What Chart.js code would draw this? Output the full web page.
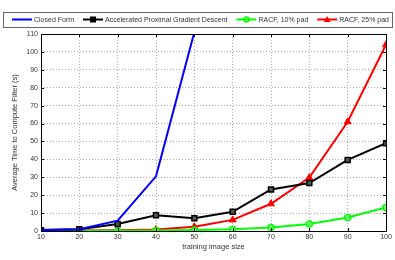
<!DOCTYPE html>
<html>
<head>
<meta charset="utf-8">
<script src="https://cdn.jsdelivr.net/npm/chart.js@4/dist/chart.umd.min.js"></script>
<style>
  html, body { margin: 0; padding: 0; background: #fff; }
  #wrap { width: 395px; height: 260px; }
</style>
</head>
<body>
<div id="wrap"><canvas id="timeChart" width="395" height="260"></canvas></div>
<script>
// image sizes on the x axis
const sizes = [10, 20, 30, 40, 50, 60, 70, 80, 90, 100];
const yTicks = [0, 10, 20, 30, 40, 50, 60, 70, 80, 90, 100, 110];

// average time (s) for each method
const closedForm = [0.5, 1, 5.8, 30.5, 111, null, null, null, null, null];
const apgd = [0.5, 1, 3.9, 8.8, 7.1, 10.7, 23.2, 26.8, 39.7, 49];
const racf10 = [0.2, 0.2, 0.2, 0.3, 0.5, 1, 1.9, 3.9, 7.5, 13.1];
const racf25 = [0.3, 0.3, 0.4, 0.8, 2.4, 6.2, 15.2, 29.8, 61, 104];

const FONT = '"Liberation Sans", Arial, sans-serif';

// matlab style legend box + plot frame
const frameAndLegend = {
  id: 'frameAndLegend',
  afterDraw(chart) {
    const ctx = chart.ctx;
    const a = chart.chartArea;
    ctx.save();
    ctx.strokeStyle = '#000';
    ctx.lineWidth = 1;
    ctx.strokeRect(Math.round(a.left) + 0.5, Math.round(a.top) + 0.5,
      Math.round(a.right - a.left), Math.round(a.bottom - a.top));

    // inward tick marks on all four sides
    const xs = chart.scales.x, ys = chart.scales.y;
    ctx.beginPath();
    sizes.forEach(v => {
      const px = Math.round(xs.getPixelForValue(v)) + 0.5;
      ctx.moveTo(px, a.bottom); ctx.lineTo(px, a.bottom - 3);
      ctx.moveTo(px, a.top); ctx.lineTo(px, a.top + 3);
    });
    yTicks.forEach(v => {
      const py = Math.round(ys.getPixelForValue(v)) + 0.5;
      ctx.moveTo(a.left, py); ctx.lineTo(a.left + 3, py);
      ctx.moveTo(a.right, py); ctx.lineTo(a.right - 3, py);
    });
    ctx.stroke();

    // legend
    ctx.font = '7px ' + FONT;
    ctx.textBaseline = 'middle';
    const cy = 19.5;
    const boxL = 3, boxR = 392;
    const lineLen = 20;
    // measure so the entries fill the box like the original
    let total = 0;
    chart.data.datasets.forEach(ds => { total += lineLen + 2 + ctx.measureText(ds.label).width; });
    const gap = (boxR - boxL - 12 - total) / 3;
    let x = boxL + 9;
    ctx.fillStyle = '#fff';
    ctx.fillRect(boxL, 12, boxR - boxL, 15);
    ctx.strokeStyle = '#666';
    ctx.strokeRect(boxL + 0.5, 12.5, boxR - boxL, 15);
    chart.data.datasets.forEach(ds => {
      ctx.strokeStyle = ds.borderColor;
      ctx.lineWidth = 2;
      ctx.beginPath();
      ctx.moveTo(x, cy); ctx.lineTo(x + lineLen, cy);
      ctx.stroke();
      const mx = x + lineLen / 2;
      ctx.lineWidth = 1.5;
      if (ds.pointStyle === 'rect') {
        ctx.fillStyle = '#000';
        ctx.fillRect(mx - 3, cy - 3, 6, 6);
      } else if (ds.pointStyle === 'circle' && ds.pointRadius > 0) {
        ctx.beginPath();
        ctx.arc(mx, cy, 2.5, 0, Math.PI * 2);
        ctx.stroke();
      } else if (ds.pointStyle === 'triangle') {
        ctx.fillStyle = ds.borderColor;
        ctx.beginPath();
        ctx.moveTo(mx, cy - 3.5);
        ctx.lineTo(mx + 3.5, cy + 2.5);
        ctx.lineTo(mx - 3.5, cy + 2.5);
        ctx.closePath();
        ctx.fill();
      }
      ctx.fillStyle = '#333';
      ctx.fillText(ds.label, x + lineLen + 2, cy + 0.5);
      x += lineLen + 2 + ctx.measureText(ds.label).width + gap;
    });
    ctx.restore();
  }
};

new Chart(document.getElementById('timeChart'), {
  type: 'line',
  data: {
    labels: sizes,
    datasets: [
      {
        label: 'Closed Form',
        data: closedForm,
        borderColor: '#0000ff',
        borderWidth: 2,
        pointRadius: 0,
        pointStyle: 'circle',
      },
      {
        label: 'Accelerated Proximal Gradient Descent',
        data: apgd,
        borderColor: '#000000',
        backgroundColor: '#555555',
        borderWidth: 2,
        pointStyle: 'rect',
        pointRadius: 3.5,
        pointBorderWidth: 1.5,
      },
      {
        label: 'RACF, 10% pad',
        data: racf10,
        borderColor: '#00ff00',
        backgroundColor: 'rgba(120,255,120,0.6)',
        borderWidth: 2,
        pointStyle: 'circle',
        pointRadius: 3,
        pointBorderWidth: 1.5,
      },
      {
        label: 'RACF, 25% pad',
        data: racf25,
        borderColor: '#ff0000',
        backgroundColor: '#ff0000',
        borderWidth: 2,
        pointStyle: 'triangle',
        pointRadius: 4,
        pointBorderWidth: 1,
      },
    ],
  },
  options: {
    responsive: false,
    animation: false,
    layout: { padding: { top: 34, right: 9, left: 0, bottom: 0 } },
    plugins: {
      legend: { display: false },
      tooltip: { enabled: false },
    },
    scales: {
      x: {
        type: 'linear',
        min: 10,
        max: 100,
        afterFit(s) { s.height = 29; },
        afterBuildTicks(s) { s.ticks = sizes.map(v => ({ value: v })); },
        grid: { color: '#aaaaaa', drawTicks: false },
        border: { display: false, dash: [1, 2] },
        ticks: { color: '#333', font: { family: FONT, size: 7 }, padding: 2, maxRotation: 0 },
        title: {
          display: true,
          text: 'training image size',
          color: '#333',
          font: { family: FONT, size: 7.5 },
          padding: { top: 0, bottom: 9 },
        },
      },
      y: {
        min: 0,
        max: 110,
        afterFit(s) { s.width = 41; },
        afterBuildTicks(s) { s.ticks = yTicks.map(v => ({ value: v })); },
        grid: { color: '#aaaaaa', drawTicks: false },
        border: { display: false, dash: [1, 2] },
        ticks: { color: '#333', font: { family: FONT, size: 7 }, padding: 3 },
        title: {
          display: true,
          text: 'Average Time to Compute Filter (s)',
          color: '#333',
          font: { family: FONT, size: 7.5 },
          padding: { top: 10, bottom: 0 },
        },
      },
    },
  },
  plugins: [frameAndLegend],
});
</script>
</body>
</html>
